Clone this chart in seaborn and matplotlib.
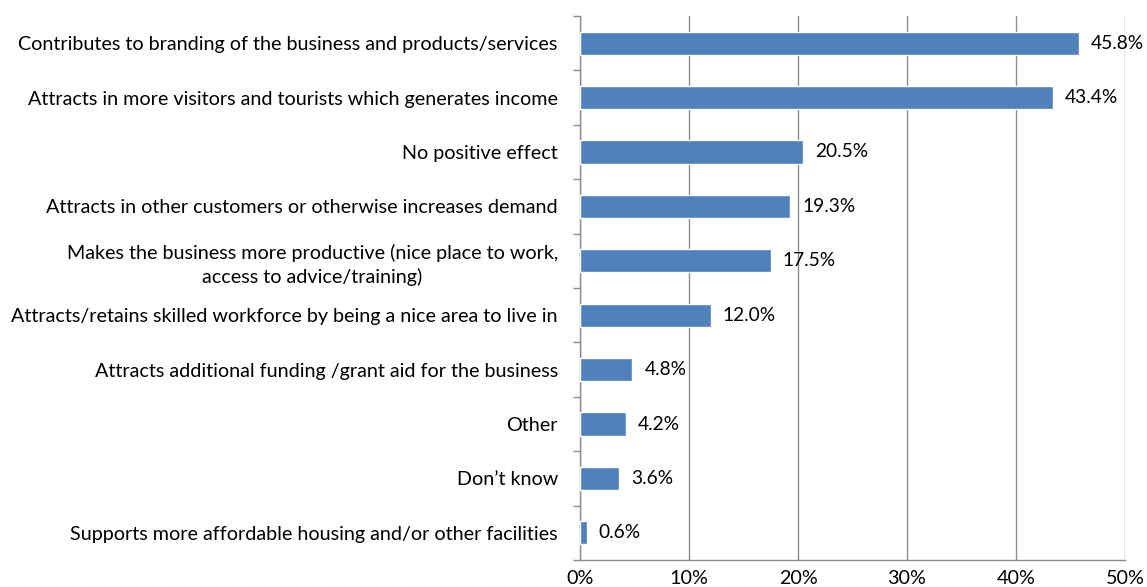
import matplotlib
matplotlib.use("Agg")
import matplotlib.pyplot as plt
from matplotlib.ticker import FixedLocator, PercentFormatter
import numpy as np
import pandas as pd
import seaborn as sns

categories = [
    "Contributes to branding of the business and products/services",
    "Attracts in more visitors and tourists which generates income",
    "No positive effect",
    "Attracts in other customers or otherwise increases demand",
    "Makes the business more productive (nice place to work,\naccess to advice/training)",
    "Attracts/retains skilled workforce by being a nice area to live in",
    "Attracts additional funding /grant aid for the business",
    "Other",
    "Don\u2019t know",
    "Supports more affordable housing and/or other facilities",
]
values = [45.8, 43.4, 20.5, 19.3, 17.5, 12.0, 4.8, 4.2, 3.6, 0.6]
x_ticks = [0, 10, 20, 30, 40, 50]

df = pd.DataFrame({"category": categories, "value": values})

sns.set_theme(style="white")
plt.rcParams["font.family"] = ["Lato", "DejaVu Sans"]

grid_col = "#8c8c8c"
bar_col = "#4F81BD"
fs = 14.2

fig = plt.figure(figsize=(11.47, 5.87), dpi=100)
ax = fig.add_axes([580 / 1147, 1 - 560 / 587, 545 / 1147, 544 / 587])

sns.barplot(data=df, x="value", y="category", color=bar_col, width=0.43,
            saturation=1, ax=ax, zorder=3)

ax.set_xlim(0, 50)
ax.set_ylim(len(categories) - 0.5, -0.5)
ax.set_xlabel("")
ax.set_ylabel("")

ax.xaxis.set_major_locator(FixedLocator(x_ticks))
ax.xaxis.set_major_formatter(PercentFormatter(decimals=0))
ax.grid(axis="x", color=grid_col, linewidth=1.0, zorder=0)
ax.grid(axis="y", visible=False)

for side in ["top", "right"]:
    ax.spines[side].set_visible(False)
for side in ["left", "bottom"]:
    ax.spines[side].set_color(grid_col)
    ax.spines[side].set_linewidth(1.0)

ax.tick_params(axis="x", which="major", direction="out", length=5, width=1,
               color=grid_col, labelsize=fs, pad=2, labelcolor="black")
ax.tick_params(axis="y", which="major", length=0, labelsize=fs, pad=16,
               labelcolor="black")
ax.yaxis.set_minor_locator(FixedLocator(np.arange(-0.5, len(categories), 1.0)))
ax.tick_params(axis="y", which="minor", direction="out", length=5, width=1,
               color=grid_col, left=True)

for lbl in ax.get_yticklabels():
    lbl.set_multialignment("center")
    lbl.set_linespacing(1.4)

for i, v in enumerate(values):
    ax.text(v + 1.1, i, f"{v:.1f}%", va="center", ha="left", fontsize=13.8,
            color="black", zorder=4)

fig.savefig("out.png", dpi=100)
